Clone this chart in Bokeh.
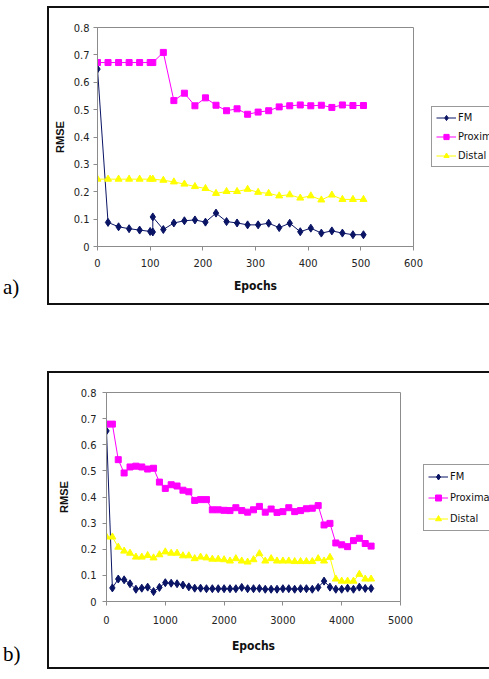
from bokeh.plotting import figure
from bokeh.models import Legend, LegendItem, FixedTicker, Div, Spacer
from bokeh.layouts import column, row
from bokeh.embed import file_html
from bokeh.resources import INLINE

# ---------------- data: panel a ----------------
epochs_a = [0, 20, 40, 60, 80, 100, 105, 125, 145, 165, 185, 205, 225, 245,
            265, 285, 305, 325, 345, 365, 385, 405, 425, 445, 465, 485, 505]
fm_epochs_a = [0, 20, 40, 60, 80, 100, 105, 105, 125, 145, 165, 185, 205, 225,
               245, 265, 285, 305, 325, 345, 365, 385, 405, 425, 445, 465, 485, 505]
fm_a = [0.648, 0.088, 0.072, 0.065, 0.060, 0.055, 0.053, 0.108, 0.062, 0.086,
        0.094, 0.097, 0.089, 0.122, 0.091, 0.086, 0.079, 0.079, 0.085, 0.069,
        0.085, 0.054, 0.067, 0.049, 0.057, 0.049, 0.043, 0.043]
prox_a = [0.672, 0.672, 0.672, 0.672, 0.672, 0.672, 0.672, 0.709, 0.533, 0.560,
          0.514, 0.543, 0.516, 0.496, 0.503, 0.483, 0.491, 0.496, 0.510, 0.514,
          0.517, 0.514, 0.516, 0.508, 0.517, 0.515, 0.515]
distal_a = [0.246, 0.246, 0.246, 0.246, 0.246, 0.246, 0.246, 0.242, 0.236, 0.228,
            0.219, 0.212, 0.194, 0.201, 0.201, 0.209, 0.198, 0.194, 0.185, 0.189,
            0.177, 0.185, 0.170, 0.188, 0.172, 0.172, 0.172]
x_ticks_a = [0, 100, 200, 300, 400, 500, 600]

# ---------------- data: panel b ----------------
epochs_b = [0, 100, 200, 300, 400, 500, 600, 700, 800, 900,
            1000, 1100, 1200, 1300, 1400, 1500, 1600, 1700, 1800, 1900,
            2000, 2100, 2200, 2300, 2400, 2500, 2600, 2700, 2800, 2900,
            3000, 3100, 3200, 3300, 3400, 3500, 3600, 3700, 3800, 3900,
            4000, 4100, 4200, 4300, 4400, 4500]
fm_b = [0.653, 0.052, 0.086, 0.083, 0.068, 0.047, 0.051, 0.055, 0.038, 0.054,
        0.072, 0.070, 0.068, 0.063, 0.056, 0.051, 0.051, 0.049, 0.049, 0.049,
        0.049, 0.049, 0.049, 0.054, 0.049, 0.049, 0.050, 0.047, 0.047, 0.047,
        0.049, 0.049, 0.047, 0.049, 0.049, 0.047, 0.054, 0.078, 0.055, 0.047,
        0.047, 0.051, 0.047, 0.055, 0.050, 0.050]
prox_b = [0.679, 0.679, 0.543, 0.492, 0.515, 0.518, 0.515, 0.507, 0.510, 0.457,
          0.433, 0.447, 0.442, 0.426, 0.420, 0.387, 0.390, 0.390, 0.351, 0.351,
          0.349, 0.348, 0.359, 0.348, 0.342, 0.351, 0.364, 0.342, 0.354, 0.341,
          0.344, 0.359, 0.344, 0.348, 0.355, 0.357, 0.367, 0.293, 0.299, 0.224,
          0.217, 0.210, 0.233, 0.242, 0.222, 0.212]
distal_b = [0.247, 0.247, 0.208, 0.193, 0.185, 0.170, 0.170, 0.176, 0.167, 0.179,
            0.190, 0.185, 0.185, 0.175, 0.175, 0.164, 0.170, 0.167, 0.162, 0.162,
            0.160, 0.155, 0.164, 0.155, 0.151, 0.160, 0.183, 0.155, 0.164, 0.155,
            0.155, 0.155, 0.153, 0.153, 0.153, 0.153, 0.164, 0.155, 0.169, 0.086,
            0.078, 0.078, 0.078, 0.104, 0.086, 0.086]
x_ticks_b = [0, 1000, 2000, 3000, 4000, 5000]

y_ticks = [0, 0.1, 0.2, 0.3, 0.4, 0.5, 0.6, 0.7, 0.8]
y_tick_labels = ["0", "0.1", "0.2", "0.3", "0.4", "0.5", "0.6", "0.7", "0.8"]
series_names = ["FM", "Proximal", "Distal"]

FM_C = "#0a1464"
PROX_C = "#ff00ff"
DIST_C = "#ffff00"
NARROW = "'DejaVu Sans Condensed', 'Liberation Sans Narrow', 'Liberation Sans', sans-serif"
GRAY = "#8c8c8c"
BORDER = "2px solid #111"


def draw_series(p, fx, fy, ex, py, dy):
    l1 = p.line(fx, fy, line_color=FM_C, line_width=1)
    m1 = p.scatter(fx, fy, marker="diamond", size=8, fill_color=FM_C, line_color=FM_C)
    l2 = p.line(ex, py, line_color=PROX_C, line_width=1)
    m2 = p.scatter(ex, py, marker="square", size=6, fill_color=PROX_C, line_color=PROX_C)
    l3 = p.line(ex, dy, line_color=DIST_C, line_width=1)
    m3 = p.scatter(ex, dy, marker="triangle", size=7, fill_color=DIST_C, line_color=DIST_C)
    return [(l1, m1), (l2, m2), (l3, m3)]


def make_panel(fx, fy, ex, py, dy, xmax, xticks, w, h, bl, br, bt, bb,
               xstand, xlab_stand, ystand, ylab_stand):
    p = figure(width=w, height=h, x_range=(0, xmax), y_range=(0, 0.8),
               output_backend="svg", toolbar_location=None,
               min_border_left=bl, min_border_right=br,
               min_border_top=bt, min_border_bottom=bb, margin=0)
    p.xgrid.visible = False
    p.ygrid.visible = False
    p.outline_line_color = GRAY
    p.outline_line_width = 1
    p.background_fill_color = "white"
    p.border_fill_color = "white"

    p.xaxis.ticker = FixedTicker(ticks=xticks)
    p.yaxis.ticker = FixedTicker(ticks=y_ticks)
    p.yaxis.major_label_overrides = {t: l for t, l in zip(y_ticks, y_tick_labels)}
    for ax in (p.xaxis[0], p.yaxis[0]):
        ax.axis_line_color = GRAY
        ax.major_tick_line_color = GRAY
        ax.major_tick_in = 0
        ax.major_tick_out = 4
        ax.minor_tick_line_color = None
        ax.major_label_text_font = NARROW
        ax.major_label_text_font_size = "11px"
        ax.major_label_text_color = "#222222"
        ax.axis_label_text_font_style = "bold"
        ax.axis_label_text_color = "#111111"
    p.xaxis.major_label_standoff = xstand
    p.yaxis.major_label_standoff = ystand
    p.xaxis.axis_label = "Epochs"
    p.xaxis.axis_label_text_font = NARROW
    p.xaxis.axis_label_text_font_size = "12px"
    p.xaxis.axis_label_standoff = xlab_stand
    p.yaxis.axis_label = "RMSE"
    p.yaxis.axis_label_text_font = "Liberation Sans"
    p.yaxis.axis_label_text_font_size = "11px"
    p.yaxis.axis_label_standoff = ylab_stand

    draw_series(p, fx, fy, ex, py, dy)
    p.styles = {"border-left": BORDER, "border-top": BORDER,
                "border-bottom": BORDER, "box-sizing": "border-box"}
    return p


def make_legend_panel(fx, fy, ex, py, dy, w, h, loc, gh):
    # the legend sits right of the plot; the series are drawn again (out of view)
    # so that the legend can show their line + marker swatches
    p = figure(width=w, height=h, x_range=(-2, -1), y_range=(0, 0.8),
               output_backend="svg", toolbar_location=None,
               min_border_left=0, min_border_right=0,
               min_border_top=0, min_border_bottom=0, margin=0)
    p.axis.visible = False
    p.xgrid.visible = False
    p.ygrid.visible = False
    p.outline_line_color = None
    p.border_fill_color = "white"
    rs = draw_series(p, fx, fy, ex, py, dy)
    legend = Legend(items=[LegendItem(label=n, renderers=list(r))
                           for n, r in zip(series_names, rs)],
                    location=loc)
    legend.label_text_font = NARROW
    legend.label_text_font_size = "11px"
    legend.label_text_color = "#111111"
    legend.glyph_width = 20
    legend.glyph_height = gh
    legend.label_height = gh
    legend.label_standoff = 2
    legend.spacing = 6
    legend.padding = 4
    legend.margin = 0
    legend.border_line_color = "#333333"
    legend.border_line_width = 1
    legend.background_fill_color = "white"
    legend.background_fill_alpha = 1
    p.add_layout(legend)
    p.styles = {"border-top": BORDER, "border-bottom": BORDER, "box-sizing": "border-box"}
    return p


pa = make_panel(fm_epochs_a, fm_a, epochs_a, prox_a, distal_a, 600, x_ticks_a,
                378, 299, 48, 14, 19, 61, 8, 9, 4, 5)
la = make_legend_panel(fm_epochs_a, fm_a, epochs_a, prox_a, distal_a, 64, 299, (6, 79), 13)
pb = make_panel(epochs_b, fm_b, epochs_b, prox_b, distal_b, 5000, x_ticks_b,
                371, 298, 57, 20, 19, 70, 10, 12, 6, 8)
lb = make_legend_panel(epochs_b, fm_b, epochs_b, prox_b, distal_b, 71, 298, (5, 70), 15)

lab_style = "position:relative;left:3px;font-family:'Liberation Serif','Times New Roman',serif;font-size:21px;color:#000;"
da = Div(text=f"<div style=\"{lab_style}top:266px;\">a)</div>", width=47, height=299, margin=0)
db = Div(text=f"<div style=\"{lab_style}top:268px;\">b)</div>", width=47, height=298, margin=0)

layout = column(Spacer(width=489, height=6, margin=0), row(da, pa, la, margin=0),
                Spacer(width=489, height=66, margin=0), row(db, pb, lb, margin=0),
                margin=0)

open("out.html", "w").write(file_html(layout, INLINE))
